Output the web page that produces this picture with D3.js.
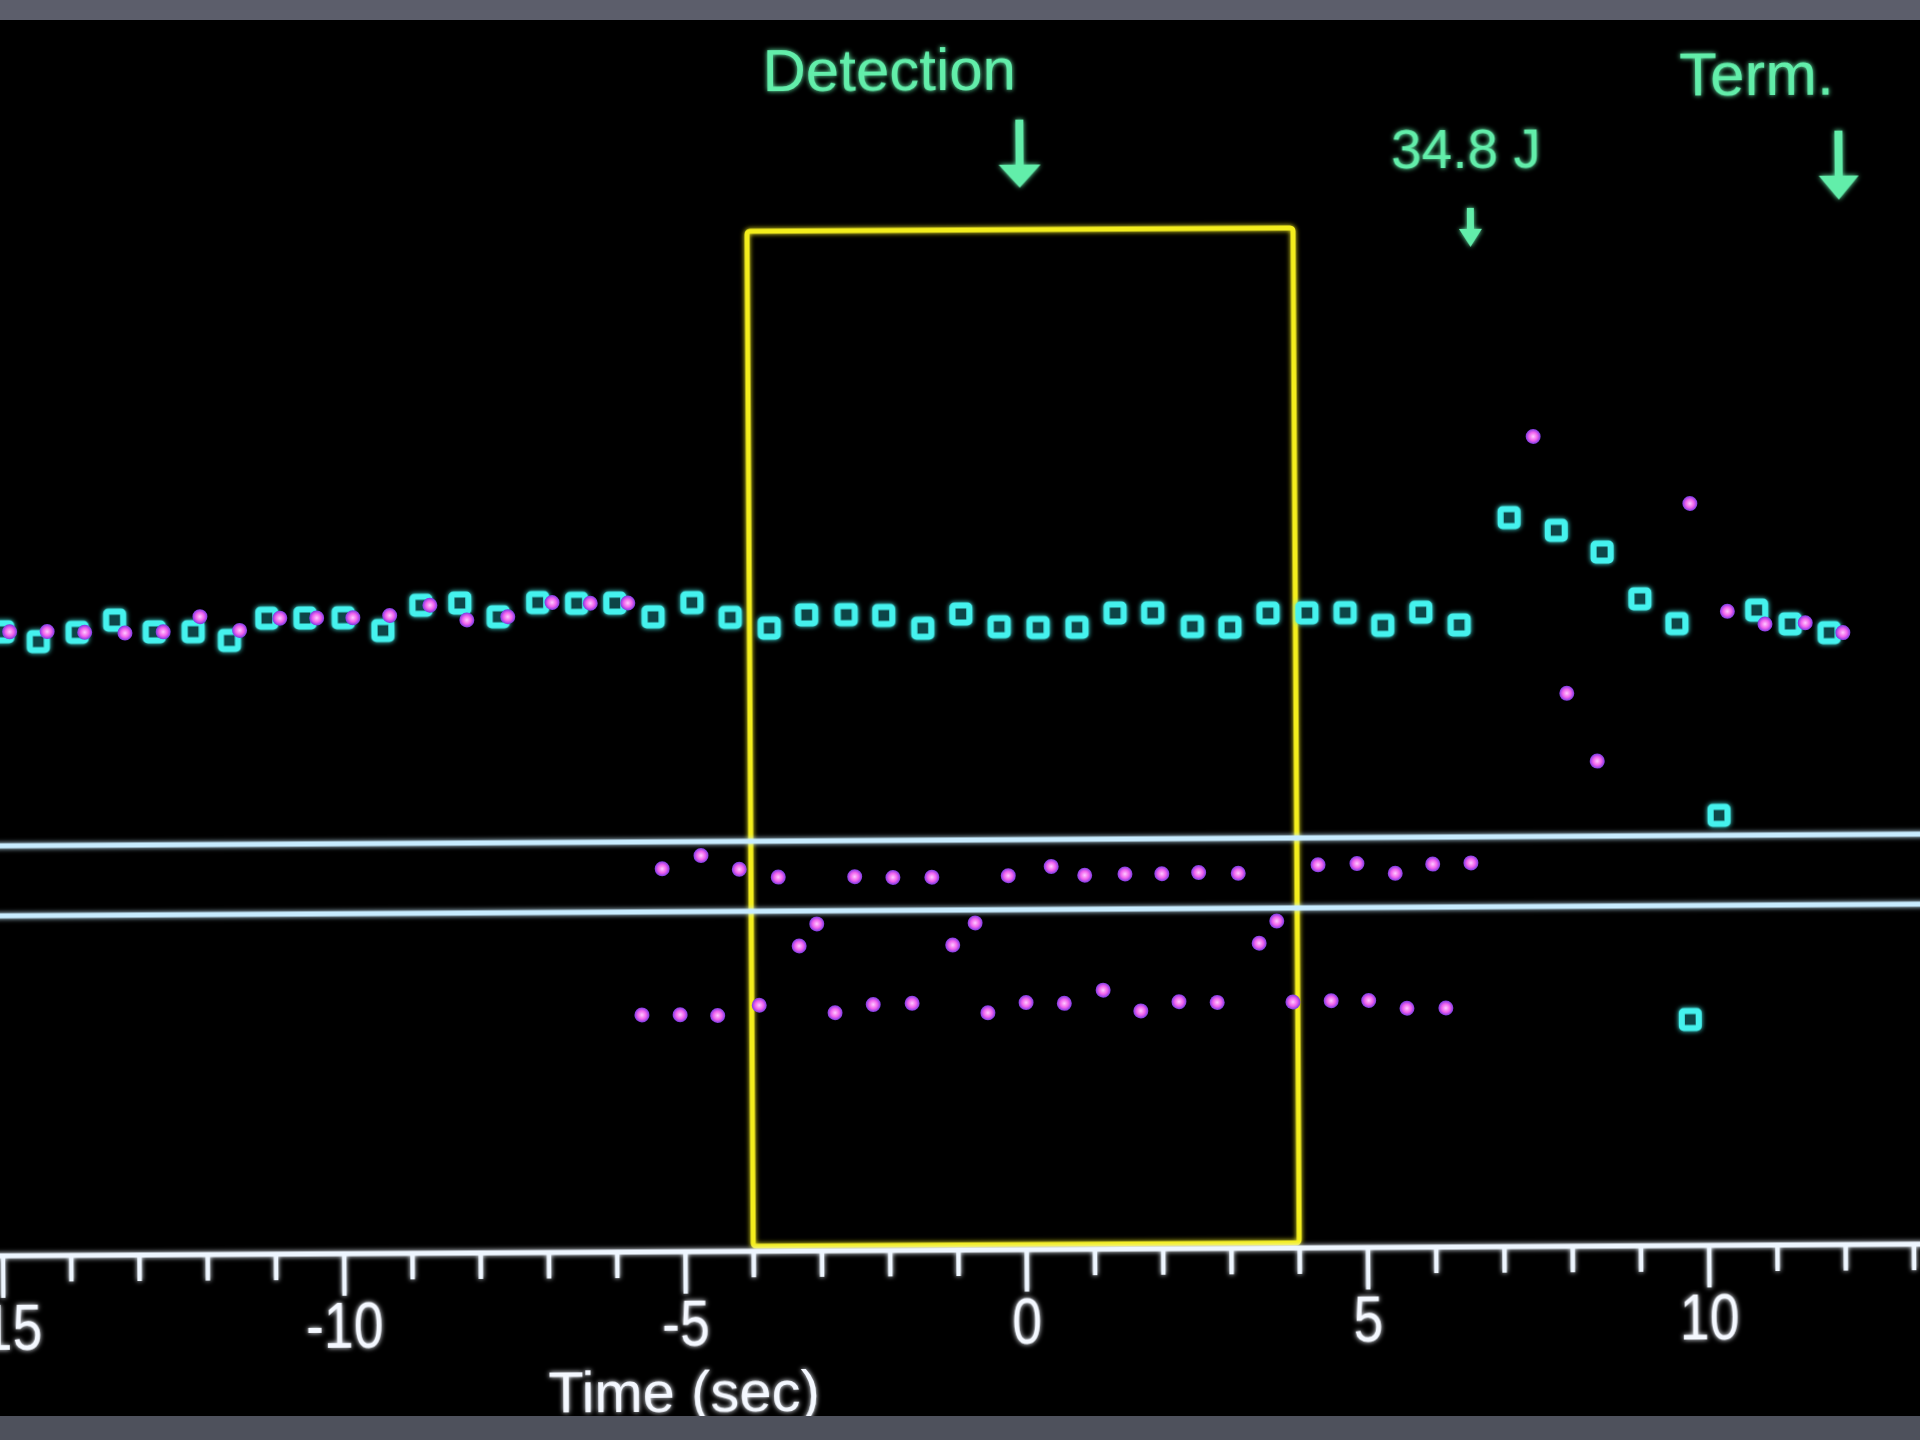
<html>
<head>
<meta charset="utf-8">
<script src="https://d3js.org/d3.v7.min.js"></script>
<style>
  body { margin: 0; background-color: #000; }
  .axis text { fill: #f4f8ff; font-family: "Liberation Sans", Arial, sans-serif; font-size: 64px; }
  .note { fill: #62eeaa; font-family: "Liberation Sans", Arial, sans-serif; }
</style>
</head>
<body>
<script>
// time in seconds relative to detection, interval in ms
var squareTime = [-14.94,-14.42,-13.85,-13.30,-12.72,-12.15,-11.62,-11.07,-10.51,-9.95,
  -9.37,-8.81,-8.24,-7.68,-7.10,-6.53,-5.97,-5.41,-4.84,-4.28,
  -3.71,-3.16,-2.58,-2.03,-1.46,-0.90,-0.34,0.23,0.80,1.36,
  1.91,2.49,3.04,3.60,4.17,4.73,5.28,5.84,6.40,7.14,
  7.83,8.50,9.05,9.59,9.75,10.19,10.76,11.25,11.82];
var squareMs = [624,614,623,635,623,623,614,636,636,636,
  623,648,650,636,650,649,649,635,649,634,
  623,636,636,635,622,636,623,622,622,636,
  636,622,621,635,635,635,622,635,622,729,
  716,694,647,622,226,430,635,621,612];

var dotTime = [-14.84,-14.29,-13.74,-13.15,-12.59,-12.05,-11.47,-10.88,-10.34,-9.81,-9.27,-8.68,-8.14,-7.54,-6.89,-6.33,-5.78,
  -5.61,-5.30,-5.05,-4.73,-4.50,-4.17,-3.89,-3.60,-3.30,-3.04,
  -2.78,-2.48,-2.22,-1.92,-1.65,-1.35,-1.05,-0.72,-0.54,-0.23,
  0.02,0.40,0.58,0.89,1.15,1.48,1.70,2.02,2.26,2.56,
  2.82,3.14,3.44,3.70,3.93,4.31,4.49,4.88,5.04,5.44,
  5.60,5.99,6.17,6.55,
  7.50,7.97,8.41,9.79,10.33,10.88,11.47,12.02];
var dotMs = [624,624,623,622,623,638,624,636,636,636,638,648,633,636,650,649,649,
  237,383,237,396,236,382,246,374,305,327,
  238,374,246,373,247,373,305,327,237,374,
  247,383,246,374,259,375,238,375,247,376,
  246,375,305,327,246,383,247,384,247,374,
  239,383,239,384,
  810,553,485,742,634,621,622,612];

var zoneLines = [410, 340];
var detectWindow = [-4, 4];
var windowMs = [5, 1020];
var xTicks = d3.range(-15, 14);
var majorTicks = [-15, -10, -5, 0, 5, 10];
var noteLabels = ["Detection", "34.8 J", "Term."];
var noteTimes = [0, 6.6, 12];

var width = 1920, height = 1440;
var axisY = 1250;

var xScale = d3.scaleLinear().domain([-15, 13]).range([-0.75, 1910.25]);
var yScale = d3.scaleLinear().domain([0, 1000]).range([axisY, axisY - 1000]);

var svg = d3.select("body").append("svg")
    .attr("width", width)
    .attr("height", height)
    .style("display", "block")
    .style("background", "#000");

var defs = svg.append("defs");
// user space region so that straight lines keep their glow
var glow = defs.append("filter").attr("id", "glow")
    .attr("filterUnits", "userSpaceOnUse")
    .attr("x", -100).attr("y", -100).attr("width", 2200).attr("height", 1700);
glow.append("feGaussianBlur").attr("in", "SourceGraphic").attr("stdDeviation", 2.5).attr("result", "blur");
var merge = glow.append("feMerge");
merge.append("feMergeNode").attr("in", "blur");
merge.append("feMergeNode").attr("in", "SourceGraphic");

var grad = defs.append("radialGradient").attr("id", "dotGrad");
grad.append("stop").attr("offset", "0%").attr("stop-color", "#ffc8ff");
grad.append("stop").attr("offset", "55%").attr("stop-color", "#f062ee");
grad.append("stop").attr("offset", "100%").attr("stop-color", "#7a3ae0");

// the photo of the screen is tilted a little
var plot = svg.append("g")
    .attr("transform", "rotate(-0.35, 960, 720)");

// detection window
plot.append("rect")
    .attr("x", xScale(detectWindow[0]))
    .attr("y", yScale(windowMs[1]))
    .attr("width", xScale(detectWindow[1]) - xScale(detectWindow[0]))
    .attr("height", yScale(windowMs[0]) - yScale(windowMs[1]))
    .attr("rx", 3)
    .attr("fill", "none")
    .attr("stroke", "#f4ee1e")
    .attr("stroke-width", 5)
    .attr("filter", "url(#glow)");

// zone lines
plot.append("g").attr("filter", "url(#glow)")
  .selectAll(".zone").data(zoneLines).enter().append("line")
    .attr("class", "zone")
    .attr("x1", -30).attr("x2", width + 30)
    .attr("y1", function(d){ return yScale(d); })
    .attr("y2", function(d){ return yScale(d); })
    .attr("stroke", "#c8ecff")
    .attr("stroke-width", 5);

// axis
var xAxis = d3.axisBottom(xScale)
    .tickValues(xTicks)
    .tickSize(24)
    .tickSizeOuter(0)
    .tickFormat(function(d){ return majorTicks.indexOf(d) >= 0 ? d : ""; });

var gx = plot.append("g")
    .attr("class", "axis")
    .attr("transform", "translate(0," + axisY + ")")
    .attr("filter", "url(#glow)")
    .call(xAxis);
gx.select(".domain").remove();
gx.append("line")
    .attr("x1", -30).attr("x2", width + 30)
    .attr("y1", 0).attr("y2", 0)
    .attr("stroke", "#eef6ff")
    .attr("stroke-width", 5);
gx.selectAll(".tick line")
    .attr("stroke", "#eef6ff")
    .attr("stroke-width", 4.5)
    .attr("y2", function(d){ return majorTicks.indexOf(d) >= 0 ? 42 : 26; });
// screen font is tall and narrow
gx.selectAll(".tick text")
    .attr("y", 94)
    .attr("dy", 0)
    .attr("font-size", null)
    .attr("font-family", null)
    .attr("transform", "scale(0.84,1)");

plot.append("text")
    .attr("class", "axis-title")
    .attr("x", 680)
    .attr("y", 1410)
    .attr("text-anchor", "middle")
    .attr("fill", "#f4f8ff")
    .attr("filter", "url(#glow)")
    .style("font-family", "'Liberation Sans', Arial, sans-serif")
    .style("font-size", "58px")
    .text("Time (sec)");

// cyan squares
var sq = 17;
plot.append("g").attr("filter", "url(#glow)")
  .selectAll(".sq").data(d3.zip(squareTime, squareMs)).enter().append("rect")
    .attr("class", "sq")
    .attr("x", function(d){ return xScale(d[0]) - sq / 2; })
    .attr("y", function(d){ return yScale(d[1]) - sq / 2; })
    .attr("width", sq).attr("height", sq)
    .attr("rx", 2)
    .attr("fill", "#0d4446")
    .attr("stroke", "#45f2ee")
    .attr("stroke-width", 6);

// magenta dots
plot.selectAll(".dot").data(d3.zip(dotTime, dotMs)).enter().append("circle")
    .attr("class", "dot")
    .attr("cx", function(d){ return xScale(d[0]); })
    .attr("cy", function(d){ return yScale(d[1]); })
    .attr("r", 7.5)
    .attr("fill", "url(#dotGrad)");

// annotations
var noteStyle = [
    { anchor: "end", dx: -3, ty: 90, size: 60, top: 120, head: 163, bottom: 188, w: 42 },
    { anchor: "middle", dx: -4, ty: 171, size: 55, top: 211, head: 230, bottom: 250, w: 23 },
    { anchor: "end", dx: -4, ty: 100, size: 62, top: 136, head: 179, bottom: 205, w: 40 }
];

noteLabels.forEach(function(label, i){
    var s = noteStyle[i];
    var ax = xScale(noteTimes[i]);
    var g = plot.append("g").attr("filter", "url(#glow)");
    g.append("text")
        .attr("class", "note")
        .attr("x", ax + s.dx)
        .attr("y", s.ty)
        .attr("text-anchor", s.anchor)
        .style("font-size", s.size + "px")
        .text(label);
    var sw = s.w > 30 ? 4 : 3.5;
    g.append("path")
        .attr("fill", "#62eeaa")
        .attr("d", "M" + (ax - sw) + "," + s.top + "H" + (ax + sw) + "V" + (s.head + 2) +
            "H" + (ax + s.w / 2) + "L" + ax + "," + s.bottom + "L" + (ax - s.w / 2) + "," + (s.head + 2) +
            "H" + (ax - sw) + "Z");
});

// slide frame bars
svg.append("rect").attr("x", 0).attr("y", 0).attr("width", width).attr("height", 20).attr("fill", "#5c5e6b");
svg.append("rect").attr("x", 0).attr("y", 1416).attr("width", width).attr("height", 24).attr("fill", "#4e515c");
</script>
</body>
</html>
